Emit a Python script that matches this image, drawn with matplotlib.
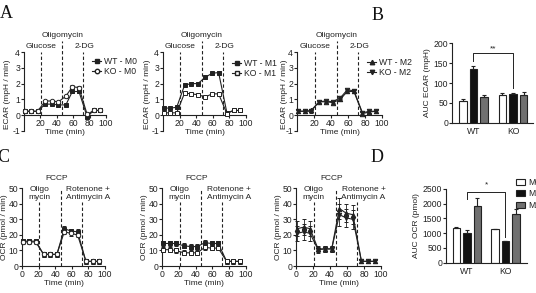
import matplotlib
matplotlib.use('Agg')
import matplotlib.pyplot as plt
from matplotlib.lines import Line2D

plt.rcParams['font.family'] = ['Liberation Sans', 'DejaVu Sans']
plt.rcParams['font.size'] = 6
plt.rcParams['axes.unicode_minus'] = False

# ---------------- data ----------------
time_min = [1.5, 9, 16.5, 26, 34, 42, 51, 59, 67, 77, 85, 93]
inj_ecar = [21, 46.5, 72]
inj_ocr = [21, 46.5, 72]

wt_m0_ecar = [0.25, 0.25, 0.25, 0.7, 0.7, 0.65, 0.65, 1.5, 1.5, -0.1, 0.3, 0.3]
ko_m0_ecar = [0.25, 0.25, 0.25, 0.9, 0.9, 0.85, 1.2, 1.8, 1.75, 0.05, 0.3, 0.3]
wt_m1_ecar = [0.45, 0.45, 0.5, 1.9, 2.0, 2.0, 2.4, 2.65, 2.7, 0.15, 0.3, 0.3]
ko_m1_ecar = [0.15, 0.15, 0.15, 1.4, 1.35, 1.3, 1.15, 1.35, 1.35, 0.1, 0.3, 0.3]
wt_m2_ecar = [0.25, 0.25, 0.3, 0.85, 0.85, 0.8, 1.0, 1.5, 1.5, 0.1, 0.2, 0.25]
ko_m2_ecar = [0.25, 0.25, 0.25, 0.85, 0.9, 0.85, 1.1, 1.6, 1.55, 0.15, 0.25, 0.25]
ecar_err = [0.08] * 12

wt_m0_ocr = [16, 16, 16, 7.5, 7.5, 7.5, 24, 22.5, 22, 3, 3, 3]
ko_m0_ocr = [15.5, 15.5, 15.5, 7.5, 7.5, 7.5, 22, 21, 20, 3, 3, 3]
wt_m1_ocr = [14.5, 14.5, 14.5, 13, 12.5, 12.5, 15, 14.5, 14.5, 3, 3, 3]
ko_m1_ocr = [10.5, 10.5, 10, 8.5, 8.5, 8.5, 12, 11.5, 11.5, 3, 3, 3]
wt_m2_ocr = [24, 25, 24, 11, 11, 11, 37, 34, 33, 3, 3, 3]
ko_m2_ocr = [21, 22, 21, 10.5, 11, 11, 33, 31, 30, 3, 3, 3]
ocr_err_small = [1.5] * 12
ocr_err_m2 = [5, 5, 5, 2, 2, 2, 7, 6, 6, 1, 1, 1]

groups = ['WT', 'KO']
subsets = ['M0', 'M1', 'M2']
auc_ecar = {'WT': [55, 135, 65], 'KO': [70, 72, 70]}
auc_ecar_err = {'WT': [4, 7, 6], 'KO': [4, 2, 7]}
auc_ocr = {'WT': [1180, 1020, 1930], 'KO': [1130, 720, 1640]}
auc_ocr_err = {'WT': [40, 90, 250], 'KO': [30, 0, 180]}

# ---------------- layout ----------------
W, H = 536, 293
fig = plt.figure(figsize=(W / 100, H / 100), dpi=100)
INK = '#222222'
BAR_COLORS = ['white', '#111111', '#707070']


def ax_px(l, t, r, b):
    return fig.add_axes([l / W, 1 - b / H, (r - l) / W, (b - t) / H])


def style(ax):
    for s in ['top', 'right']:
        ax.spines[s].set_visible(False)
    for s in ['left', 'bottom']:
        ax.spines[s].set_linewidth(0.8)
        ax.spines[s].set_color(INK)
    ax.tick_params(length=2, width=0.8, pad=0.8, labelsize=6.2, colors=INK)
    ax.patch.set_visible(False)


def series(ax, y, err, marker, filled):
    ax.errorbar(time_min, y, yerr=err, fmt='-' + marker, ms=3.2, mew=0.7,
                mfc=INK if filled else 'white', mec=INK, color=INK, lw=0.8,
                elinewidth=0.6, capsize=1.3, capthick=0.6, clip_on=False, zorder=3)


def vline(ax, x, top):
    ax.plot([x, x], [0, top], ls=(0, (3, 2)), color=INK, lw=0.8, clip_on=False, zorder=2)


def ecar_panel(l, r, wt, ko, mk_wt, mk_ko, fill_ko, name, leg_xy, ylab_off):
    ax = ax_px(l, 52, r, 131)
    style(ax)
    ax.set_xlim(0, 100)
    ax.set_ylim(-1, 4)
    ax.spines['bottom'].set_position(('data', 0))
    ax.set_xticks([20, 40, 60, 80, 100])
    ax.set_yticks([-1, 0, 1, 2, 3, 4])
    ax.set_xlabel('Time (min)', color=INK)
    ax.set_ylabel('ECAR (mpH / min)', color=INK)
    ax.xaxis.set_label_coords(0.5, 0.02)
    ax.yaxis.set_label_coords(ylab_off / (r - l), 0.46)
    series(ax, wt, ecar_err, mk_wt, True)
    series(ax, ko, ecar_err, mk_ko, fill_ko)
    vline(ax, inj_ecar[0], 4.0)
    vline(ax, inj_ecar[1], 4.7)
    vline(ax, inj_ecar[2], 4.0)
    ax.text(inj_ecar[0], 4.35, 'Glucose', ha='center', va='center', color=INK)
    ax.text(inj_ecar[1], 5.05, 'Oligomycin', ha='center', va='center', color=INK)
    ax.text(inj_ecar[2] + 2, 4.35, '2-DG', ha='center', va='center', color=INK)
    h = [Line2D([], [], color=INK, lw=0.8, marker=mk_wt, ms=3.2, mfc=INK, mec=INK),
         Line2D([], [], color=INK, lw=0.8, marker=mk_ko, ms=3.2,
                mfc=INK if fill_ko else 'white', mec=INK)]
    fig.legend(h, ['WT - ' + name, 'KO - ' + name], loc='upper left',
               bbox_to_anchor=(leg_xy[0] / W, 1 - leg_xy[1] / H), frameon=False,
               handlelength=1.0, handletextpad=0.35, labelspacing=0.1,
               borderpad=0, fontsize=6.2, labelcolor=INK)
    return ax


def ocr_panel(l, r, wt, ko, err, mk_wt, mk_ko, fill_ko, ylab_off):
    ax = ax_px(l, 188.3, r, 266)
    style(ax)
    ax.set_xlim(0, 100)
    ax.set_ylim(0, 50)
    ax.set_xticks([0, 20, 40, 60, 80, 100])
    ax.set_yticks([0, 10, 20, 30, 40, 50])
    ax.set_xlabel('Time (min)', labelpad=1, color=INK)
    ax.set_ylabel('OCR (pmol / min)', color=INK)
    ax.yaxis.set_label_coords(ylab_off / (r - l), 0.5)
    series(ax, wt, err, mk_wt, True)
    series(ax, ko, err, mk_ko, fill_ko)
    vline(ax, inj_ocr[0], 41)
    vline(ax, inj_ocr[1], 49)
    vline(ax, inj_ocr[2], 41)
    ax.text(inj_ocr[1] - 5, 56.4, 'FCCP', ha='center', va='center', color=INK)
    ax.text(inj_ocr[0], 49.5, 'Oligo', ha='center', va='center', color=INK)
    ax.text(inj_ocr[0], 44.2, 'mycin', ha='center', va='center', color=INK)
    ax.text(inj_ocr[2] + 7.5, 49.5, 'Rotenone +', ha='center', va='center', color=INK)
    ax.text(inj_ocr[2] + 7.5, 44.2, 'Antimycin A', ha='center', va='center', color=INK)
    return ax


ecar_panel(24, 106, wt_m0_ecar, ko_m0_ecar, 's', 'o', False, 'M0', (88, 52.5), -13)
ecar_panel(163, 246, wt_m1_ecar, ko_m1_ecar, 's', 's', False, 'M1', (228, 55), -12)
ecar_panel(297, 382, wt_m2_ecar, ko_m2_ecar, '^', 'v', True, 'M2', (363, 53.5), -9.5)

ocr_panel(22, 105, wt_m0_ocr, ko_m0_ocr, ocr_err_small, 's', 'o', False, -13.5)
ocr_panel(162, 246, wt_m1_ocr, ko_m1_ocr, ocr_err_small, 's', 's', False, -14.5)
ocr_panel(296, 381, wt_m2_ocr, ko_m2_ocr, ocr_err_m2, '^', 'v', True, -14.5)


def bar_panel(l, t, r, b, means, errs, ylim, yticks, ylabel, xl, xr, off, w):
    ax = ax_px(l, t, r, b)
    style(ax)
    ax.set_xlim(xl, xr)
    ax.set_ylim(*ylim)
    ax.set_yticks(yticks)
    for gi, g in enumerate(groups):
        for si in range(3):
            x = gi + (si - 1) * off
            ax.bar(x, means[g][si], width=w, color=BAR_COLORS[si], edgecolor=INK,
                   linewidth=0.8, zorder=2)
            ax.errorbar(x, means[g][si], yerr=[[0], [errs[g][si]]], fmt='none',
                        ecolor=INK, elinewidth=0.8, capsize=1.5, capthick=0.8, zorder=3)
    ax.set_xticks([0, 1])
    ax.set_xticklabels(groups)
    ax.tick_params(axis='x', length=0, pad=3)
    ax.set_ylabel(ylabel, labelpad=2, color=INK)
    return ax


axB = bar_panel(452, 43.3, 533, 122.7, auc_ecar, auc_ecar_err, (0, 200),
                [0, 50, 100, 150, 200], 'AUC ECAR (mpH)', -0.544, 1.506, 0.266, 0.2)
axB.plot([0, 0, 1, 1], [156, 175, 175, 87], color=INK, lw=0.7, clip_on=False)
axB.text(0.5, 187, '**', ha='center', va='center', color=INK, fontsize=6)

axD = bar_panel(446, 189, 527, 262.7, auc_ocr, auc_ocr_err, (0, 2500),
                [0, 500, 1000, 1500, 2000, 2500], 'AUC OCR (pmol)', -0.545, 1.56, 0.273, 0.195)
axD.plot([0, 0, 1, 1], [2150, 2408, 2408, 880], color=INK, lw=0.7, clip_on=False)
axD.text(0.5, 2640, '*', ha='center', va='center', color=INK, fontsize=6)

hD = [plt.Rectangle((0, 0), 1, 1, facecolor=c, edgecolor=INK, lw=0.8) for c in BAR_COLORS]
fig.legend(hD, subsets, loc='upper left', bbox_to_anchor=(512 / W, 1 - 174 / H),
           frameon=False, handlelength=1.0, handleheight=0.7, handletextpad=0.4,
           labelspacing=0.25, borderpad=0, fontsize=6.2, labelcolor=INK)

# panel letters
for s, x, y in [('A', 6, 14), ('B', 378, 16), ('C', 3, 157), ('D', 377, 158)]:
    fig.text(x / W, 1 - y / H, s, ha='center', va='center', fontsize=13,
             family='Liberation Serif', color='#111111')

fig.savefig('out.png', dpi=100)
